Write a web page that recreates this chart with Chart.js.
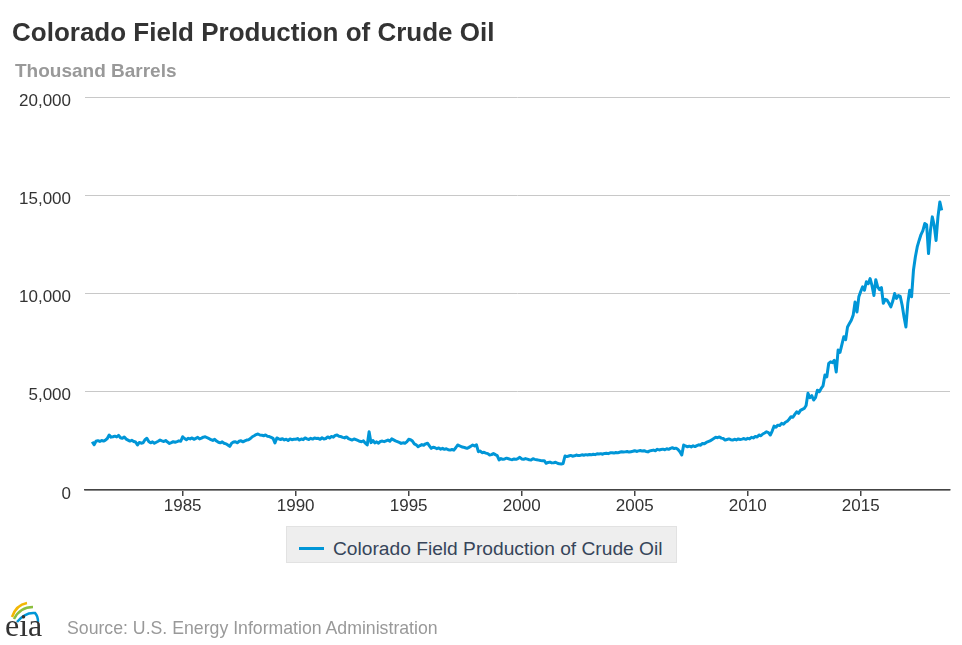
<!DOCTYPE html>
<html>
<head>
<meta charset="utf-8">
<title>Colorado Field Production of Crude Oil</title>
<script src="https://cdn.jsdelivr.net/npm/chart.js@4.4.1/dist/chart.umd.min.js"></script>
<style>
    html, body { margin: 0; padding: 0; background: #fff; }
    body { width: 962px; height: 645px; position: relative; overflow: hidden; font-family: "Liberation Sans", Arial, sans-serif; }
    #chartBox { position: absolute; left: 0; top: 0; width: 962px; height: 645px; }
    .title { position: absolute; left: 12px; top: 19px; font-size: 26px; line-height: 26px; font-weight: bold; color: #333; white-space: nowrap; }
    .subtitle { position: absolute; left: 15px; top: 61px; font-size: 19px; line-height: 19px; font-weight: bold; color: #999; white-space: nowrap; }
    .legend { position: absolute; left: 286px; top: 526px; width: 391px; height: 37px; background: #eeeeee; border: 1px solid #e2e2e2; box-sizing: border-box; }
    .legend .swatch { position: absolute; left: 12px; top: 20px; width: 25px; height: 3px; background: #0096d7; }
    .legend .label { position: absolute; left: 46px; top: 12px; font-size: 19.2px; line-height: 19px; color: #36455a; white-space: nowrap; }
    .source { position: absolute; left: 67px; top: 619px; font-size: 17.7px; line-height: 18px; color: #999; white-space: nowrap; }
    .logo { position: absolute; left: 3px; top: 600px; width: 44px; height: 42px; }
</style>
</head>
<body>
<div id="chartBox"><canvas id="productionChart" width="962" height="645"></canvas></div>
<div class="title">Colorado Field Production of Crude Oil</div>
<div class="subtitle">Thousand Barrels</div>
<div class="legend"><div class="swatch"></div><div class="label">Colorado Field Production of Crude Oil</div></div>
<svg class="logo" viewBox="0 0 44 42">
    <path d="M9 17 Q13 5 24 3" stroke="#f2b705" stroke-width="2.5" fill="none"/>
    <path d="M11 19 Q17 7 30 7" stroke="#8cbf3f" stroke-width="2.5" fill="none"/>
    <path d="M14 22 Q22 12 32 13 Q35 16 35 22" stroke="#0096d7" stroke-width="2.5" fill="none"/>
    <text x="2" y="36" font-family="Liberation Serif, DejaVu Serif, serif" font-size="32" fill="#333">eia</text>
</svg>
<div class="source">Source: U.S. Energy Information Administration</div>

<script>
// monthly production, thousand barrels, starting January 1981
var startYear = 1981;
var production = [
    2460, 2300, 2480, 2510, 2470, 2520, 2490, 2540, 2620, 2800, 2690, 2710, // 1981
    2740, 2700, 2780, 2660, 2630, 2700, 2590, 2540, 2490, 2530, 2470, 2440, // 1982
    2290, 2420, 2380, 2400, 2560, 2630, 2470, 2400, 2450, 2380, 2430, 2480, // 1983
    2540, 2500, 2470, 2520, 2440, 2370, 2410, 2460, 2430, 2460, 2500, 2480, // 1984
    2710, 2620, 2560, 2630, 2600, 2650, 2580, 2630, 2680, 2600, 2640, 2690, // 1985
    2710, 2660, 2620, 2560, 2520, 2580, 2490, 2430, 2400, 2450, 2380, 2350, // 1986
    2290, 2220, 2380, 2440, 2460, 2400, 2480, 2510, 2450, 2500, 2540, 2560, // 1987
    2620, 2710, 2760, 2820, 2850, 2800, 2790, 2760, 2800, 2740, 2720, 2680, // 1988
    2630, 2400, 2650, 2600, 2570, 2610, 2550, 2580, 2520, 2600, 2560, 2580, // 1989
    2580, 2620, 2540, 2600, 2560, 2650, 2600, 2570, 2630, 2590, 2650, 2620, // 1990
    2630, 2580, 2660, 2600, 2620, 2700, 2650, 2720, 2690, 2780, 2800, 2740, // 1991
    2720, 2680, 2650, 2700, 2620, 2580, 2540, 2600, 2560, 2520, 2480, 2460, // 1992
    2500, 2380, 2290, 2960, 2410, 2520, 2400, 2450, 2380, 2470, 2490, 2460, // 1993
    2500, 2540, 2480, 2600, 2550, 2500, 2460, 2420, 2370, 2400, 2380, 2450, // 1994
    2580, 2560, 2490, 2350, 2300, 2200, 2260, 2310, 2280, 2350, 2380, 2250, // 1995
    2120, 2180, 2150, 2100, 2140, 2080, 2120, 2070, 2100, 2050, 2030, 2060, // 1996
    2030, 2150, 2290, 2250, 2200, 2180, 2150, 2120, 2170, 2230, 2290, 2240, // 1997
    2300, 1950, 1980, 1900, 1920, 1880, 1850, 1780, 1800, 1860, 1800, 1750, // 1998
    1530, 1600, 1560, 1580, 1620, 1590, 1560, 1540, 1580, 1560, 1600, 1660, // 1999
    1580, 1560, 1600, 1570, 1540, 1530, 1590, 1560, 1540, 1520, 1500, 1490, // 2000
    1490, 1360, 1400, 1420, 1380, 1390, 1410, 1360, 1330, 1320, 1350, 1730, // 2001
    1700, 1730, 1760, 1720, 1740, 1780, 1750, 1760, 1790, 1770, 1800, 1780, // 2002
    1810, 1790, 1820, 1800, 1840, 1830, 1850, 1820, 1860, 1870, 1850, 1890, // 2003
    1900, 1880, 1910, 1890, 1920, 1950, 1930, 1940, 1960, 1930, 1950, 1970, // 2004
    2000, 1960, 1990, 2010, 1980, 2000, 1960, 1940, 1990, 2010, 2030, 2000, // 2005
    2070, 2040, 2060, 2080, 2050, 2100, 2070, 2120, 2150, 2110, 2130, 2060, // 2006
    1950, 1780, 2290, 2240, 2200, 2230, 2190, 2250, 2210, 2260, 2300, 2280, // 2007
    2370, 2350, 2420, 2460, 2500, 2560, 2620, 2680, 2660, 2700, 2640, 2620, // 2008
    2540, 2570, 2600, 2560, 2540, 2580, 2550, 2600, 2570, 2590, 2620, 2580, // 2009
    2630, 2600, 2680, 2650, 2720, 2700, 2800, 2760, 2850, 2900, 2960, 2920, // 2010
    2800, 3000, 3250, 3200, 3300, 3280, 3390, 3350, 3450, 3500, 3600, 3730, // 2011
    3700, 3850, 3980, 3900, 4050, 4100, 4150, 4300, 4920, 4700, 4800, 4580, // 2012
    4700, 5080, 5000, 5170, 5300, 5850, 5760, 6440, 6520, 6480, 6600, 6010, // 2013
    7120, 7000, 7400, 7800, 7650, 8300, 8470, 8640, 8900, 9570, 9060, 9830, // 2014
    10100, 10340, 10170, 10600, 10500, 10760, 10400, 9900, 10700, 10340, 10200, 10300, // 2015
    9500, 9700, 9660, 9500, 9320, 9600, 10000, 9750, 9900, 9850, 9400, 8800, // 2016
    8300, 9500, 10170, 9830, 11180, 11860, 12370, 12700, 13000, 13200, 13560, 13500, // 2017
    12030, 13200, 13900, 13470, 12700, 13900, 14660, 14230 // 2018
];
var yearTicks = [1985, 1990, 1995, 2000, 2005, 2010, 2015];
var valueTicks = [0, 5000, 10000, 15000, 20000];

document.addEventListener('DOMContentLoaded', function () {
    var points = production.map(function (value, i) {
        return { x: startYear + i / 12, y: value };
    });

    var ctx = document.getElementById('productionChart').getContext('2d');
    new Chart(ctx, {
        type: 'line',
        data: {
            datasets: [{
                label: 'Colorado Field Production of Crude Oil',
                data: points,
                borderColor: '#0096d7',
                borderWidth: 3,
                borderJoinStyle: 'round',
                pointRadius: 0,
                tension: 0,
                fill: false
            }]
        },
        options: {
            responsive: false,
            animation: false,
            devicePixelRatio: 1,
            layout: { padding: { left: 0, top: 97, right: 12, bottom: 0 } },
            plugins: {
                legend: { display: false },
                title: { display: false },
                tooltip: { enabled: false }
            },
            scales: {
                x: {
                    type: 'linear',
                    min: 1980.68,
                    max: 2018.95,
                    afterFit: function (scale) { scale.height = 155; },
                    afterBuildTicks: function (scale) {
                        scale.ticks = yearTicks.map(function (v) { return { value: v }; });
                    },
                    ticks: {
                        callback: function (value) { return String(value); },
                        font: { family: 'Liberation Sans', size: 17 },
                        color: '#333',
                        padding: 0,
                        maxRotation: 0
                    },
                    grid: {
                        drawOnChartArea: false,
                        drawTicks: true,
                        tickLength: 6,
                        color: '#444',
                        lineWidth: 1.5
                    },
                    border: { display: true, color: '#444', width: 1.5 }
                },
                y: {
                    min: 0,
                    max: 20000,
                    afterFit: function (scale) { scale.width = 85; },
                    afterBuildTicks: function (scale) {
                        scale.ticks = valueTicks.map(function (v) { return { value: v }; });
                    },
                    ticks: {
                        callback: function (value) { return value.toLocaleString('en-US'); },
                        font: { family: 'Liberation Sans', size: 17 },
                        color: '#333',
                        padding: 14,
                        labelOffset: 4
                    },
                    grid: {
                        drawTicks: false,
                        color: '#c8c8c8',
                        lineWidth: 1
                    },
                    border: { display: false }
                }
            }
        }
    });
});
</script>
</body>
</html>
